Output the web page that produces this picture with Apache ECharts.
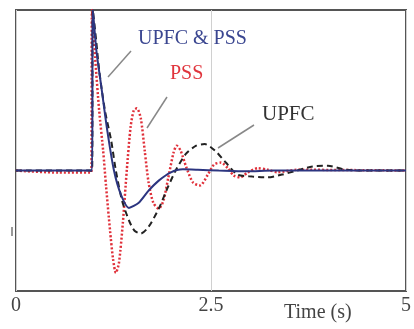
<!DOCTYPE html>
<html>
<head>
<meta charset="utf-8">
<script src="https://cdn.jsdelivr.net/npm/echarts@6/dist/echarts.min.js"></script>
<style>
html,body{margin:0;padding:0;background:#fff;}
#chart{width:414px;height:329px;}
</style>
</head>
<body>
<div id="chart"></div>
<script>
// Time axis ticks
const xTicks = [0, 2.5, 5];

// UPFC & PSS (blue solid)
const upfcPssTime   = [0, 0.975, 0.985, 1.03, 1.10, 1.17, 1.256, 1.345, 1.447, 1.574, 1.70, 1.83, 1.98, 2.14, 2.33, 2.6, 2.95, 3.3, 5];
const upfcPssValues = [0, 0,     4.0,   3.0,  2.0,  1.0,  0.0,   -0.6,  -0.93, -0.8,  -0.5, -0.25, -0.05, 0.03, 0.02, 0.0, -0.02, 0.0, 0.0];

// UPFC (black dashed)
const upfcTime   = [0, 0.975, 0.985, 1.03, 1.066, 1.14, 1.22, 1.28, 1.36, 1.45, 1.52, 1.60, 1.70, 1.83, 1.95, 2.06, 2.18, 2.31, 2.42, 2.55, 2.69, 2.84, 3.03, 3.22, 3.41, 3.60, 3.80, 4.0, 4.2, 4.4, 5];
const upfcValues = [0, 0,     4.0,   3.2,  2.5,   1.5,  0.75, 0.0,  -0.75, -1.25, -1.5, -1.57, -1.4, -0.95, -0.4, 0.05, 0.42, 0.62, 0.66, 0.5,  0.2,  -0.1, -0.15, -0.17, -0.1, 0.0,  0.1,  0.12, 0.03, 0.0, 0.0];

// PSS (red dotted)
const pssTime   = [0, 0.55, 0.965, 0.975, 1.015, 1.066, 1.117, 1.155, 1.206, 1.244, 1.28, 1.32, 1.37, 1.42, 1.47, 1.51, 1.55, 1.60, 1.65, 1.70, 1.76, 1.83, 1.89, 1.95, 2.02, 2.06, 2.11, 2.18, 2.27, 2.36, 2.46, 2.54, 2.63, 2.72, 2.79, 2.87, 2.97, 3.10, 3.23, 3.35, 3.6, 5];
const pssValues = [0, -0.05, -0.05, 4.0,  2.8,   1.5,   0.5,   -0.4,  -1.5,  -2.2,  -2.55, -2.3, -1.3, 0.0,  1.1,  1.5,  1.55, 1.3,  0.5,  -0.3, -0.8, -0.95, -0.75, -0.2, 0.45, 0.62, 0.5,  0.1,  -0.3, -0.37, -0.1, 0.15, 0.2,  0.05, -0.12, -0.17, -0.05, 0.06, 0.02, -0.04, 0.02, 0.0];

function pairs(t, v) { return t.map((x, i) => [x, v[i]]); }

const chart = echarts.init(document.getElementById('chart'), null, {renderer: 'canvas'});
const serif = '"Liberation Serif", "DejaVu Serif", serif';

chart.setOption({
  animation: false,
  backgroundColor: '#fff',
  grid: {left: 16, right: 4, top: 10, bottom: 38, show: true, borderColor: '#555', borderWidth: 2, backgroundColor: 'transparent'},
  xAxis: {
    type: 'value', min: 0, max: 5, interval: 2.5,
    axisLine: {show: false},
    axisTick: {show: false},
    splitLine: {show: true, lineStyle: {color: '#d0d0d0', width: 1}},
    axisLabel: {
      color: '#444', fontFamily: serif, fontSize: 20, margin: 5,
      formatter: v => xTicks.includes(v) ? String(v) : ''
    }
  },
  yAxis: {
    type: 'value', min: -3, max: 4,
    axisLine: {show: false}, axisTick: {show: false},
    splitLine: {show: false}, axisLabel: {show: false}
  },
  graphic: [
    {type: 'text', left: 284, top: 303, style: {text: 'Time (s)', font: '20px ' + serif, fill: '#444'}},
    {type: 'text', left: 138, top: 29, style: {text: 'UPFC & PSS', font: '20px ' + serif, fill: '#3a4690'}},
    {type: 'text', left: 170, top: 64, style: {text: 'PSS', font: '20px ' + serif, fill: '#e0343c'}},
    {type: 'text', left: 262, top: 104, style: {text: 'UPFC', font: '21px ' + serif, fill: '#333'}},
    {type: 'line', shape: {x1: 108, y1: 77, x2: 131, y2: 51}, style: {stroke: '#888', lineWidth: 1.5}},
    {type: 'line', shape: {x1: 147, y1: 128, x2: 167, y2: 97}, style: {stroke: '#888', lineWidth: 1.5}},
    {type: 'line', shape: {x1: 218, y1: 148, x2: 254, y2: 125}, style: {stroke: '#888', lineWidth: 1.5}},
    {type: 'line', shape: {x1: 12, y1: 227, x2: 12, y2: 236}, style: {stroke: '#777', lineWidth: 1.5}}
  ],
  series: [
    {name: 'PSS', type: 'line', data: pairs(pssTime, pssValues), smooth: 0.25, symbol: 'none',
     lineStyle: {color: '#e0303a', width: 2.5, type: [2, 2]}, z: 2},
    {name: 'UPFC', type: 'line', data: pairs(upfcTime, upfcValues), smooth: 0.25, symbol: 'none',
     lineStyle: {color: '#222', width: 2, type: [6, 4]}, z: 3},
    {name: 'UPFC & PSS', type: 'line', data: pairs(upfcPssTime, upfcPssValues), smooth: 0.25, symbol: 'none',
     lineStyle: {color: '#2c3580', width: 2}, z: 4}
  ]
});
</script>
</body>
</html>
